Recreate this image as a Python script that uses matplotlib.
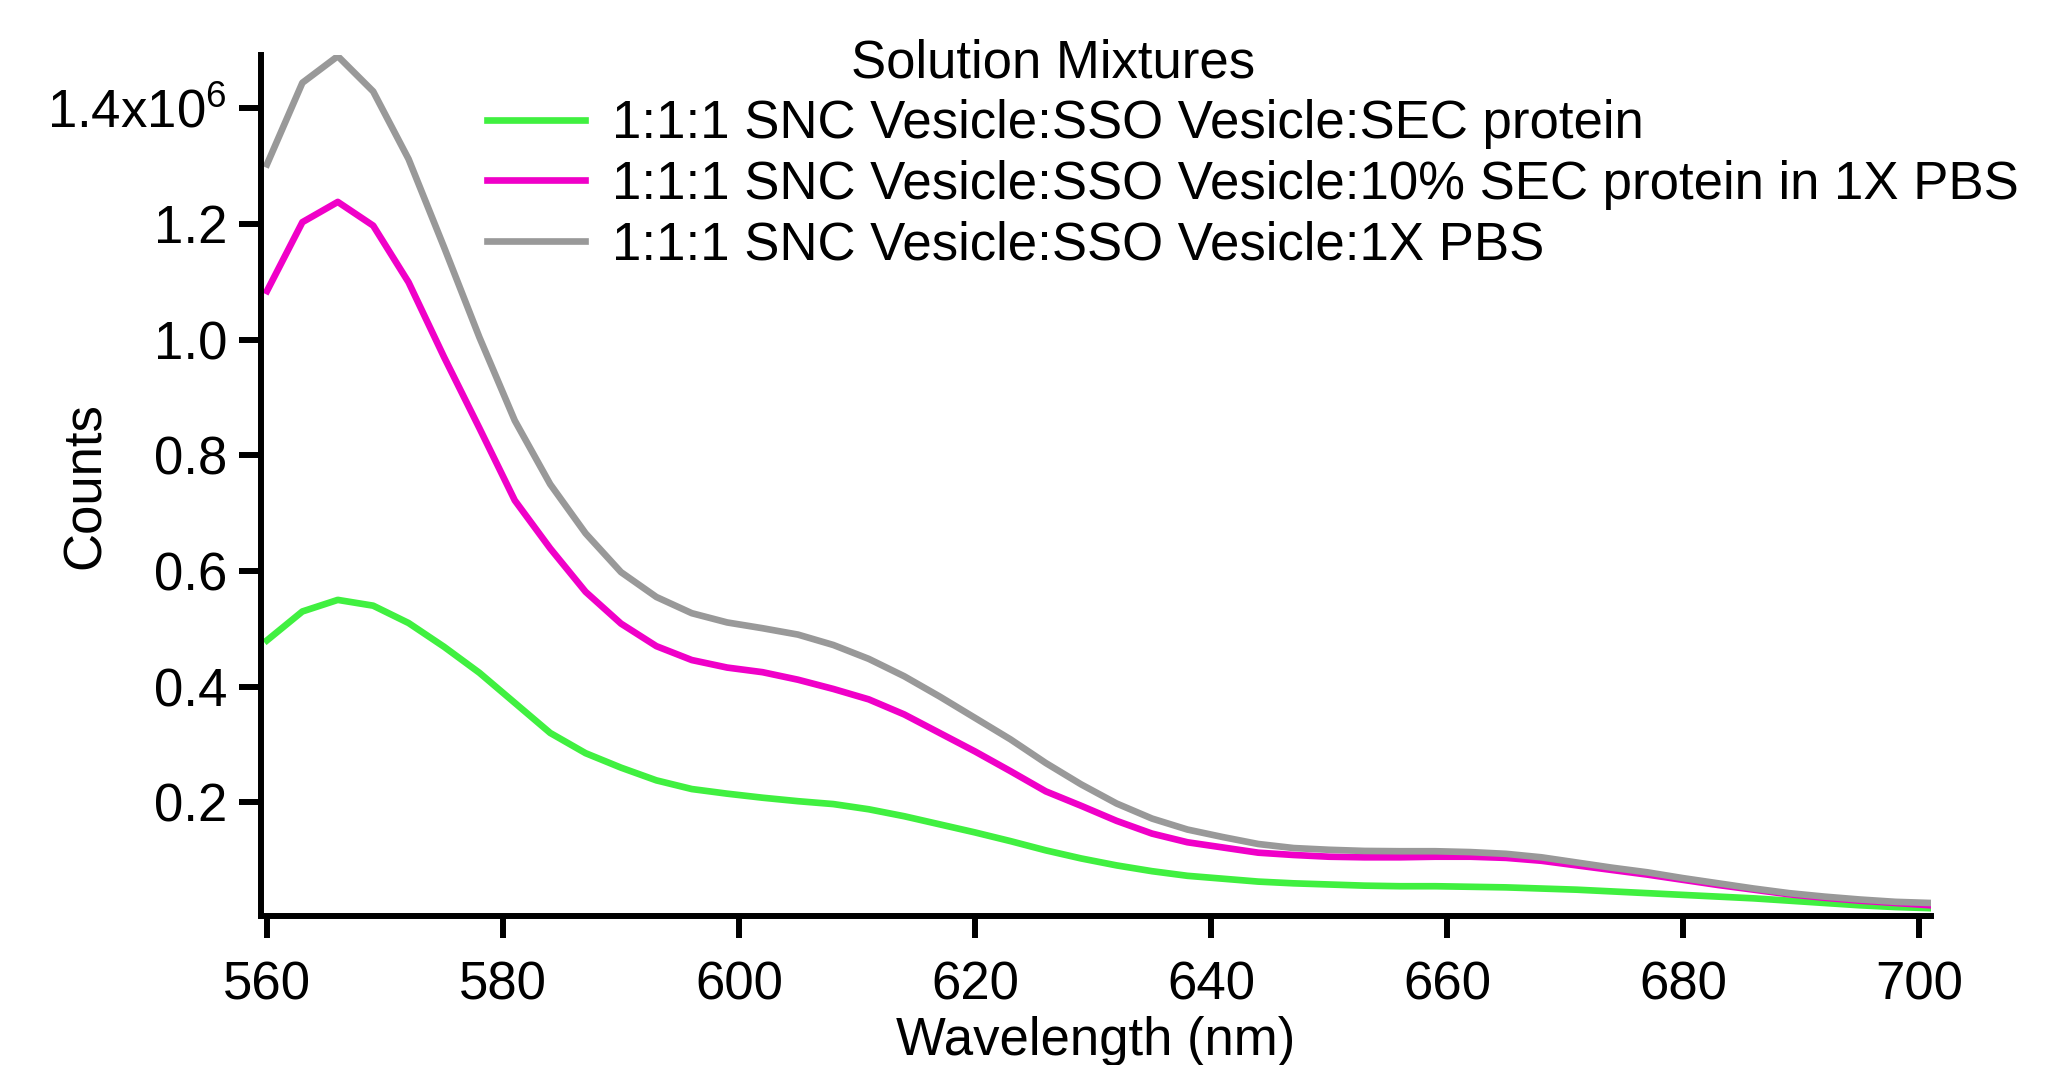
import matplotlib
matplotlib.use("Agg")
import matplotlib.pyplot as plt
import numpy as np

plt.rcParams['font.family'] = ['Liberation Sans', 'DejaVu Sans']
plt.rcParams['mathtext.default'] = 'regular'

# wavelength grid (nm), one reading every 3 nm
wavelength = np.arange(560, 702, 3)

# counts (x1e6)
sec_protein = [0.480, 0.530, 0.550, 0.540, 0.510, 0.469, 0.424, 0.372, 0.320, 0.285,
               0.260, 0.238, 0.223, 0.215, 0.208, 0.202, 0.197, 0.188, 0.176, 0.162,
               0.148, 0.133, 0.117, 0.103, 0.091, 0.081, 0.073, 0.068, 0.063, 0.060,
               0.058, 0.056, 0.055, 0.055, 0.054, 0.053, 0.051, 0.049, 0.046, 0.043,
               0.040, 0.037, 0.034, 0.030, 0.026, 0.022, 0.019, 0.017]
sec_10pct = [1.084, 1.203, 1.238, 1.197, 1.099, 0.970, 0.847, 0.722, 0.639, 0.564,
             0.509, 0.470, 0.446, 0.433, 0.425, 0.412, 0.396, 0.378, 0.352, 0.320,
             0.288, 0.254, 0.219, 0.194, 0.168, 0.146, 0.131, 0.122, 0.113, 0.109,
             0.106, 0.105, 0.105, 0.106, 0.106, 0.104, 0.099, 0.091, 0.083, 0.075,
             0.066, 0.057, 0.049, 0.041, 0.035, 0.030, 0.026, 0.022]
pbs = [1.303, 1.444, 1.490, 1.429, 1.312, 1.160, 1.004, 0.860, 0.750, 0.665,
       0.598, 0.555, 0.527, 0.511, 0.501, 0.490, 0.472, 0.448, 0.418, 0.383,
       0.346, 0.309, 0.268, 0.231, 0.198, 0.172, 0.153, 0.140, 0.128, 0.121,
       0.118, 0.116, 0.1155, 0.1155, 0.114, 0.111, 0.105, 0.096, 0.087, 0.079,
       0.069, 0.060, 0.051, 0.043, 0.037, 0.032, 0.028, 0.026]

labels = ['1:1:1 SNC Vesicle:SSO Vesicle:SEC protein',
          '1:1:1 SNC Vesicle:SSO Vesicle:10% SEC protein in 1X PBS',
          '1:1:1 SNC Vesicle:SSO Vesicle:1X PBS']
colors = ['#40F040', '#F000C8', '#999999']

yticks = [0.2e6, 0.4e6, 0.6e6, 0.8e6, 1.0e6, 1.2e6, 1.4e6]
yticklabels = ['0.2', '0.4', '0.6', '0.8', '1.0', '1.2', r'1.4x10$^{6}$']
xticks = [560, 580, 600, 620, 640, 660, 680, 700]

W, H = 2048, 1065
fig = plt.figure(figsize=(W/100, H/100), dpi=100)
left, right, top, bottom = 260.5, 1930.8, 55, 916.3
ax = fig.add_axes([left/W, 1-bottom/H, (right-left)/W, (bottom-top)/H])

lines = []
for vals, lab, c in zip([sec_protein, sec_10pct, pbs], labels, colors):
    l, = ax.plot(wavelength, np.array(vals)*1e6, color=c, lw=4.8, label=lab)
    lines.append(l)

ax.set_xlim(559.45, 701)
ax.set_ylim(0.003e6, 1.492e6)
ax.set_xticks(xticks)
ax.set_yticks(yticks)
ax.set_yticklabels(yticklabels)

for s in ['top', 'right']:
    ax.spines[s].set_visible(False)
for s in ['left', 'bottom']:
    ax.spines[s].set_linewidth(4.3)
ax.tick_params(direction='out', length=16, width=4.3, labelsize=38)
ax.tick_params(axis='x', pad=15.5)
ax.tick_params(axis='y', pad=8)

ax.set_xlabel('Wavelength (nm)', fontsize=38, labelpad=4)
ax.set_ylabel('Counts', fontsize=38, va='center')
ax.yaxis.set_label_coords((86-left)/(right-left), 0.5)

fig.legend(handles=lines, loc='upper left', bbox_to_anchor=(487/W, 1-99/H),
           frameon=False, fontsize=38, handlelength=1.86, handletextpad=0.5,
           labelspacing=0.2, borderpad=0, borderaxespad=0)
fig.text(1053/W, 1-63/H, 'Solution Mixtures', ha='center', va='center', fontsize=38)

fig.savefig('out.png', dpi=100)
